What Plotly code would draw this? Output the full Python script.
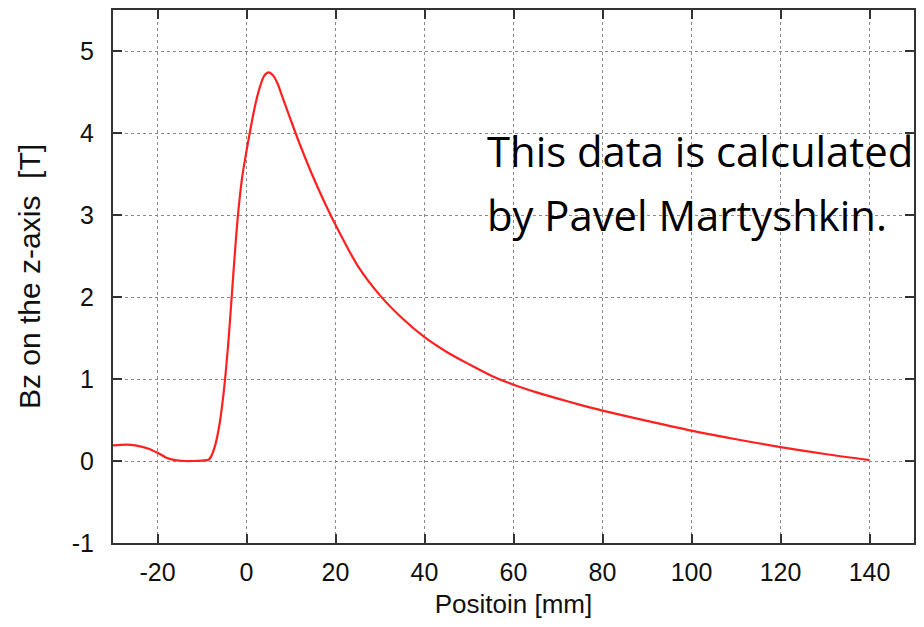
import plotly.graph_objects as go

position_mm = [-30, -27, -25, -22, -20, -18, -16, -14, -12, -10, -9, -8.5, -8, -7, -6, -5,
               -4, -3, -2, -1, 0, 1, 2, 3, 4, 5, 6, 7, 8, 10, 12, 15, 18, 20, 25,
               30, 35, 40, 45, 50, 55, 60, 65, 70, 75, 80, 90, 100, 110, 120, 130, 140]
bz_tesla = [0.19, 0.20, 0.19, 0.15, 0.10, 0.04, 0.01, 0.0, 0.0, 0.005, 0.01, 0.015, 0.05, 0.2, 0.47, 0.9,
            1.5, 2.25, 2.95, 3.45, 3.78, 4.08, 4.35, 4.56, 4.70, 4.74, 4.70, 4.60, 4.45, 4.15, 3.86, 3.46, 3.10, 2.88, 2.38,
            2.02, 1.74, 1.51, 1.33, 1.18, 1.04, 0.93, 0.84, 0.76, 0.685, 0.615, 0.49, 0.37, 0.265, 0.17, 0.085, 0.01]

x_ticks = [-20, 0, 20, 40, 60, 80, 100, 120, 140]
x_tick_text = ["-20", "0", "20", "40", "60", "80", "100", "120", "140"]
y_ticks = [-1, 0, 1, 2, 3, 4, 5]
y_tick_text = ["-1", "0", "1", "2", "3", "4", "5"]

FONT = "Liberation Sans, Arial"

fig = go.Figure()
fig.add_trace(go.Scatter(x=position_mm, y=bz_tesla, mode="lines",
                         line=dict(color="#ff2020", width=2.2, shape="spline", smoothing=0.8),
                         showlegend=False))

axis_common = dict(showline=True, linecolor="#333333", linewidth=2, mirror="allticks",
                   ticks="inside", ticklen=9, tickwidth=2, tickcolor="#333333",
                   showgrid=True, gridcolor="#8a8a8a", griddash="dot", gridwidth=1,
                   zeroline=False, tickfont=dict(family=FONT, size=25, color="#111111"))

fig.update_xaxes(range=[-30, 150], tickvals=x_ticks, ticktext=x_tick_text, ticklabelstandoff=6,
                 **axis_common,
                 title=dict(text="Positoin [mm]", font=dict(family=FONT, size=26, color="#111111"),
                            standoff=10))
fig.update_yaxes(range=[-1, 5.5], tickvals=y_ticks, ticktext=y_tick_text, ticklabelstandoff=12,
                 **axis_common,
                 title=dict(text="Bz on the z-axis  [T]", font=dict(family=FONT, size=30, color="#111111"),
                            standoff=22))

px0, px1, py0, py1 = 113, 915, 8, 543
def paper_x(px):
    return (px - px0) / (px1 - px0)
def paper_y(py):
    return (py1 - py) / (py1 - py0)

annotation_lines = ["This data is calculated", "by Pavel Martyshkin."]
line_centers = [149, 213]
for txt, yc in zip(annotation_lines, line_centers):
    fig.add_annotation(xref="paper", yref="paper", x=paper_x(485), y=paper_y(yc),
                       xanchor="left", yanchor="middle", align="left", showarrow=False,
                       text=txt, font=dict(family="Open Sans", size=41.8, color="#000000"))

fig.update_layout(width=924, height=627, margin=dict(l=px0, r=924 - px1, t=py0, b=627 - py1),
                  plot_bgcolor="white", paper_bgcolor="white")

fig.write_html("out.html")
